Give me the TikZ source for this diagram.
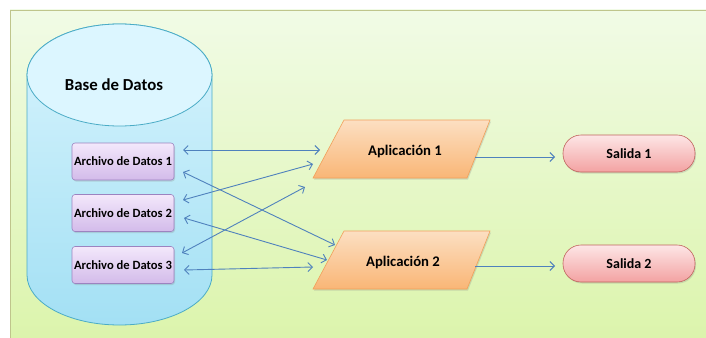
\documentclass[tikz,border=0pt]{standalone}
\usepackage{fontspec}
\setmainfont{Carlito}
\usetikzlibrary{arrows.meta,shadows}
\definecolor{bgtop}{HTML}{F1FBE6}
\definecolor{bgbot}{HTML}{DBF4AA}
\definecolor{bgline}{HTML}{BFC58C}
\definecolor{cylline}{HTML}{4BACC6}
\definecolor{cyltop}{HTML}{D8F4FD}
\definecolor{cylbot}{HTML}{A3E0F4}
\definecolor{cylcap}{HTML}{DCF6FF}
\definecolor{filetop}{HTML}{F3E8FB}
\definecolor{filebot}{HTML}{D3BBEA}
\definecolor{fileline}{HTML}{9C83C0}
\definecolor{apptop}{HTML}{FCDFC2}
\definecolor{appbot}{HTML}{F9B676}
\definecolor{appline}{HTML}{F1A05A}
\definecolor{outtop}{HTML}{FDE6E6}
\definecolor{outbot}{HTML}{F3A2A2}
\definecolor{outline}{HTML}{C0635D}
\definecolor{arr}{HTML}{4F81BD}
\tikzset{
  filebox/.style={draw=fileline, line width=0.6pt, top color=filetop, bottom color=filebot,
    rounded corners=3pt, minimum width=102pt, minimum height=37pt, inner sep=0pt,
    font=\bfseries\fontsize{12.6}{14}\selectfont,
    drop shadow={opacity=0.25, shadow xshift=1pt, shadow yshift=-1.5pt}},
  appshape/.style={draw=appline, line width=0.6pt, top color=apptop, bottom color=appbot},
  apptext/.style={font=\bfseries\fontsize{14.7}{17}\selectfont},
  outbox/.style={draw=outline, line width=0.6pt, top color=outtop, bottom color=outbot,
    rounded corners=18pt, minimum width=132pt, minimum height=37pt, inner sep=0pt,
    font=\bfseries\fontsize{14}{16}\selectfont,
    drop shadow={opacity=0.25, shadow xshift=1pt, shadow yshift=-1.5pt}},
  link/.style={draw=arr, line width=0.9pt, {Straight Barb[length=4.5pt,width=9pt]}-{Straight Barb[length=4.5pt,width=9pt]}},
  flow/.style={draw=arr, line width=0.9pt, -{Straight Barb[length=4.5pt,width=9pt]}}
}
\begin{document}
\begin{tikzpicture}[x=1pt,y=-1pt]
\useasboundingbox (0,0) rectangle (706,337);
% background
\draw[draw=bgline, line width=0.8pt, top color=bgtop, bottom color=bgbot] (10,10) rectangle (720,350);
% database cylinder
\path[draw=cylline, line width=0.8pt, top color=cyltop, bottom color=cylbot]
  (27,75) -- (27,275) arc[start angle=180, end angle=360, x radius=92.5pt, y radius=50pt]
  -- (212,75) arc[start angle=0, end angle=180, x radius=92.5pt, y radius=51pt] -- cycle;
\draw[draw=cylline, line width=0.8pt, fill=cylcap] (119.5,75) ellipse[x radius=92.5pt, y radius=51pt];
\node[font=\bfseries\fontsize{16.8}{19}\selectfont] (db) at (114,85) {Base de Datos};
% files
\node[filebox] (f1) at (123,161.5) {\raisebox{-3pt}{Archivo de Datos 1}};
\node[filebox] (f2) at (123,213) {\raisebox{-3pt}{Archivo de Datos 2}};
\node[filebox] (f3) at (123,265) {\raisebox{-3pt}{Archivo de Datos 3}};
% applications
\path[appshape, drop shadow={opacity=0.25, shadow xshift=1pt, shadow yshift=-1.5pt}]
  (344,120) -- (490,120) -- (467,178) -- (313,178) -- cycle;
\node[apptext] (p1) at (405,151) {Aplicación 1};
\path[appshape, drop shadow={opacity=0.25, shadow xshift=1pt, shadow yshift=-1.5pt}]
  (344,231) -- (490,231) -- (467,289) -- (313,289) -- cycle;
\node[apptext] (p2) at (403,262) {Aplicación 2};
% outputs
\node[outbox] (s1) at (629,153.5) {Salida 1};
\node[outbox] (s2) at (629,263.5) {Salida 2};
% connector end points
\coordinate (f1a) at (183,150);   \coordinate (p1a) at (320,150);
\coordinate (f1b) at (183,172);   \coordinate (p2a) at (335,245);
\coordinate (f2a) at (183,200);   \coordinate (p1b) at (313,164);
\coordinate (f2b) at (184,218);   \coordinate (p2b) at (327,260);
\coordinate (f3a) at (182,253);   \coordinate (p1c) at (305,187);
\coordinate (f3b) at (184,270);   \coordinate (p2c) at (313,267);
\coordinate (p1o) at (475,157);   \coordinate (s1i) at (555,157);
\coordinate (p2o) at (475,266);   \coordinate (s2i) at (555,266);
\draw[link] (f1a) -- (p1a);
\draw[link] (f1b) -- (p2a);
\draw[link] (f2a) -- (p1b);
\draw[link] (f2b) -- (p2b);
\draw[link] (f3a) -- (p1c);
\draw[link] (f3b) -- (p2c);
\draw[flow] (p1o) -- (s1i);
\draw[flow] (p2o) -- (s2i);
\end{tikzpicture}
\end{document}
